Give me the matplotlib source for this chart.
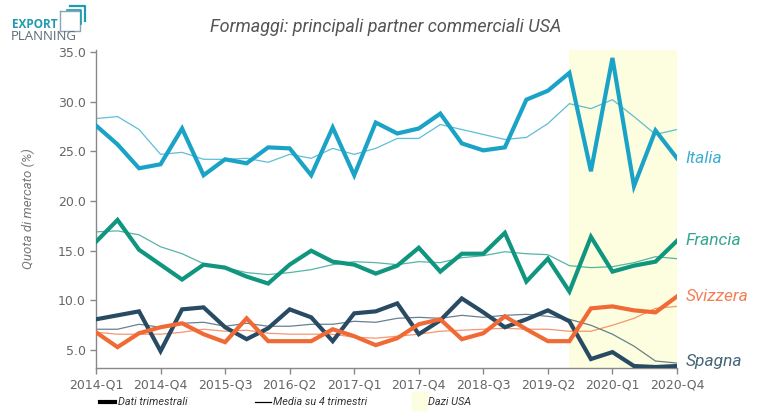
import matplotlib
matplotlib.use("Agg")
import matplotlib.pyplot as plt
from matplotlib.lines import Line2D
from matplotlib.patches import Rectangle

quarters = [f"{y}-Q{q}" for y in range(2014, 2021) for q in range(1, 5)]

italia_q = [27.6, 25.7, 23.3, 23.7, 27.3, 22.6, 24.2, 23.8, 25.4, 25.3, 22.6, 27.4, 22.6, 27.9,
            26.8, 27.3, 28.8, 25.8, 25.1, 25.4, 30.2, 31.1, 32.9, 23.0, 34.4, 21.5, 27.1, 24.3]
italia_m = [28.3, 28.5, 27.2, 24.7, 24.9, 24.2, 24.2, 24.3, 23.9, 24.7, 24.3, 25.3, 24.7, 25.3,
            26.3, 26.3, 27.7, 27.2, 26.7, 26.2, 26.4, 27.8, 29.8, 29.3, 30.2, 28.5, 26.7, 27.2]
francia_q = [15.9, 18.1, 15.1, 13.6, 12.1, 13.6, 13.3, 12.4, 11.7, 13.6, 15.0, 13.9, 13.6, 12.7,
             13.5, 15.3, 12.9, 14.7, 14.7, 16.8, 11.9, 14.2, 10.9, 16.4, 12.9, 13.5, 13.9, 16.0]
francia_m = [16.9, 17.0, 16.6, 15.4, 14.7, 13.7, 13.3, 12.8, 12.6, 12.8, 13.1, 13.6, 13.9, 13.8,
             13.6, 13.9, 13.8, 14.3, 14.5, 14.9, 14.7, 14.6, 13.5, 13.3, 13.4, 13.8, 14.4, 14.2]
spagna_q = [8.1, 8.5, 8.9, 4.9, 9.1, 9.3, 7.3, 6.1, 7.2, 9.1, 8.3, 5.9, 8.7, 8.9,
            9.7, 6.6, 8.0, 10.2, 8.8, 7.3, 8.1, 9.0, 7.9, 4.1, 4.8, 3.4, 3.3, 3.4]
spagna_m = [7.1, 7.1, 7.6, 7.3, 7.7, 7.8, 7.4, 7.7, 7.4, 7.4, 7.6, 7.6, 7.9, 7.8,
            8.2, 8.3, 8.2, 8.5, 8.3, 8.5, 8.6, 8.4, 8.1, 7.5, 6.6, 5.4, 3.9, 3.7]
svizzera_q = [6.8, 5.3, 6.7, 7.3, 7.7, 6.6, 5.8, 8.2, 5.9, 5.9, 5.9, 7.1, 6.4, 5.5,
              6.2, 7.6, 8.1, 6.1, 6.7, 8.4, 7.1, 5.9, 5.9, 9.2, 9.4, 9.0, 8.8, 10.4]
svizzera_m = [6.8, 6.6, 6.6, 6.6, 6.8, 7.1, 6.9, 7.0, 6.7, 6.6, 6.6, 6.6, 6.3, 6.2,
              6.4, 6.6, 6.9, 7.0, 7.1, 7.2, 7.1, 7.1, 6.9, 6.9, 7.5, 8.2, 9.2, 9.4]

series = [
    ("Italia", italia_q, italia_m, "#1AA3C6"),
    ("Francia", francia_q, francia_m, "#10957F"),
    ("Spagna", spagna_q, spagna_m, "#284B63"),
    ("Svizzera", svizzera_q, svizzera_m, "#F06A35"),
]
dazi_start = "2019-Q3"
yticks = [5, 10, 15, 20, 25, 30, 35]

W, H = 758, 412
fig = plt.figure(figsize=(W / 100, H / 100), dpi=100)
ax = fig.add_axes([96 / W, 1 - 368 / H, (677 - 96) / W, (368 - 50) / H])

x = list(range(len(quarters)))
i0 = quarters.index(dazi_start)
ax.axvspan(i0, len(quarters) - 1, color="#FDFEE0", zorder=0, lw=0)

for name, q, m, c in series:
    ax.plot(x, m, color=c, lw=0.9, alpha=0.7, zorder=2)
for name, q, m, c in series:
    ax.plot(x, q, color=c, lw=3.0, zorder=3, solid_joinstyle="miter")
    dy = 3 if name == "Spagna" else 0
    ax.annotate(name, (x[-1], q[-1]), xytext=(6, dy), textcoords="offset points",
                va="center", ha="left", color=c, alpha=0.85, fontsize=12.5,
                family="Roboto", style="italic", annotation_clip=False)

ax.set_xlim(0, len(quarters) - 1)
ax.set_ylim(3.2, 35.2)
ax.set_xticks(x[::3])
ax.set_xticklabels(quarters[::3])
ax.set_yticks(yticks)
ax.set_yticklabels([f"{v:.1f}" for v in yticks])
for s in ["top", "right"]:
    ax.spines[s].set_visible(False)
for s in ["left", "bottom"]:
    ax.spines[s].set_color("#888888")
    ax.spines[s].set_linewidth(1.0)
ax.tick_params(colors="#888888", labelcolor="#666666", labelsize=9, length=4, width=1)
ax.set_ylabel("Quota di mercato (%)", family="Roboto", style="italic", fontsize=9.5,
              color="#777777", labelpad=16)

fig.text(386 / W, 1 - 27 / H, "Formaggi: principali partner commerciali USA", ha="center",
         va="center", family="Roboto", style="italic", fontsize=13, color="#555555")

# legend
ly = 1 - 402 / H
fig.add_artist(Line2D([100 / W, 115 / W], [ly, ly], color="black", lw=3))
fig.text(118 / W, ly, "Dati trimestrali", va="center", ha="left", family="Roboto",
         style="italic", fontsize=7.8, color="#333333")
fig.add_artist(Line2D([255 / W, 271 / W], [ly, ly], color="black", lw=0.9))
fig.text(273 / W, ly, "Media su 4 trimestri", va="center", ha="left", family="Roboto",
         style="italic", fontsize=7.8, color="#333333")
fig.add_artist(Rectangle((412 / W, ly - 8 / H), 15 / W, 18 / H, color="#FDFEE0",
                         transform=fig.transFigure))
fig.text(428 / W, ly, "Dazi USA", va="center", ha="left", family="Roboto",
         style="italic", fontsize=7.8, color="#333333")

# logo
fig.text(12 / W, 1 - 24 / H, "EXPORT", ha="left", va="center", family="Open Sans",
         weight="bold", fontsize=8.5, color="#1F9BB0")
fig.text(11 / W, 1 - 37 / H, "PLANNING", ha="left", va="center", family="Open Sans",
         fontsize=9.5, color="#5A6B78")
fig.add_artist(Line2D([60 / W, 60 / W, 80 / W, 80 / W, 60 / W],
                      [1 - 11 / H, 1 - 31 / H, 1 - 31 / H, 1 - 11 / H, 1 - 11 / H],
                      color="#8FA3B0", lw=1.0))
fig.add_artist(Line2D([70 / W, 85 / W, 85 / W], [1 - 6 / H, 1 - 6 / H, 1 - 21 / H],
                      color="#1F9BB0", lw=1.6))
fig.add_artist(Line2D([67 / W, 81 / W, 81 / W], [1 - 10 / H, 1 - 10 / H, 1 - 24 / H],
                      color="#1F9BB0", lw=1.2))

fig.savefig("out.png", dpi=100)
